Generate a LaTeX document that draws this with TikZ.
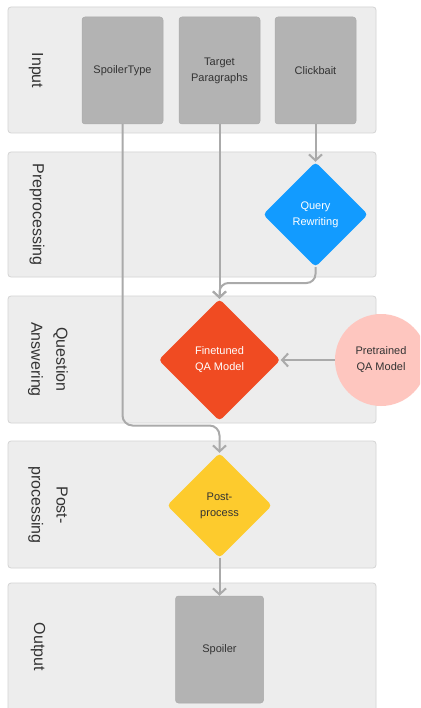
\documentclass[tikz,border=0pt]{standalone}
\usepackage{fontspec}
\setmainfont{Liberation Sans}
\usetikzlibrary{shapes.geometric,arrows.meta}
\definecolor{lanefill}{HTML}{EDEDED}
\definecolor{laneline}{HTML}{D4D4D4}
\definecolor{boxfill}{HTML}{B3B3B3}
\definecolor{boxline}{HTML}{ABABAB}
\definecolor{qblue}{HTML}{129BFF}
\definecolor{qred}{HTML}{F04B22}
\definecolor{qyellow}{HTML}{FDCB2D}
\definecolor{qpink}{HTML}{FEC6BF}
\definecolor{conncol}{HTML}{AAAAAA}
\definecolor{txt}{HTML}{333333}
\begin{document}
\begin{tikzpicture}[x=1pt,y=-1pt,
  lane/.style={fill=lanefill,draw=laneline,line width=0.8pt,rounded corners=3pt},
  lanelabel/.style={rotate=-90,font=\fontsize{16}{25}\selectfont,text=txt,align=center,inner sep=0pt},
  graybox/.style={fill=boxfill,draw=boxline,line width=0.5pt,rounded corners=3pt,minimum width=81pt,minimum height=107pt,inner sep=0pt,font=\fontsize{11}{16}\selectfont,text=txt,align=center},
  dia/.style={diamond,aspect=1,inner sep=0pt,rounded corners=4pt,font=\fontsize{11}{16}\selectfont,align=center},
  conn/.style={draw=conncol,line width=2pt,-{Straight Barb[length=6pt,width=13pt,line width=2pt]}},
]
\useasboundingbox (0,0) rectangle (420,708);
\clip (0,0) rectangle (420,708);
\fill[white] (0,0) rectangle (420,708);
% lanes
\path[lane] (8,7) rectangle (376,133);
\path[lane] (8,152) rectangle (376,277);
\path[lane] (8,296) rectangle (376,423);
\path[lane] (8,441) rectangle (376,568);
\path[lane] (8,583) rectangle (376,730);
% lane labels
\node[lanelabel] (lin) at (36,70.5) {Input};
\node[lanelabel] (lpre) at (37,214.5) {Preprocessing};
\node[lanelabel] (lqa) at (48,359.5) {Question\\Answering};
\node[lanelabel] (lpost) at (48,505) {Post-\\processing};
\node[lanelabel] (lout) at (38,647) {Output};
% input boxes
\node[graybox] (st) at (122.5,70.5) {SpoilerType};
\node[graybox] (tp) at (219.5,70.5) {Target\\Paragraphs};
\node[graybox] (cb) at (315.5,70.5) {Clickbait};
% diamonds
\node[dia,fill=qblue,text=white,minimum width=105pt,minimum height=105pt] (qr) at (315.5,214.5) {Query\\Rewriting};
\node[dia,fill=qred,text=white,minimum width=122pt,minimum height=122pt] (ft) at (219.5,360) {Finetuned\\QA Model};
\node[circle,fill=qpink,minimum size=92pt,inner sep=0pt,font=\fontsize{11}{16}\selectfont,text=txt,align=center] (pt) at (381,360) {Pretrained\\QA Model};
\node[dia,fill=qyellow,text=txt,minimum width=105pt,minimum height=105pt] (pp) at (219.5,505.5) {Post-\\process};
\node[graybox,minimum width=88pt,minimum height=107pt] (sp) at (219.5,649.5) {Spoiler};
% connectors
\draw[conn] (cb.south) -- (qr.north);
\draw[conn] (tp.south) -- (ft.north);
\draw[conn,rounded corners=9pt] (qr.south) |- (219.5,283) -- (ft.north);
\draw[conn,rounded corners=10pt] (st.south) |- (219.5,425.5) -- (pp.north);
\draw[conn] (pt.west) -- (ft.east);
\draw[conn] (pp.south) -- (sp.north);
\end{tikzpicture}
\end{document}
